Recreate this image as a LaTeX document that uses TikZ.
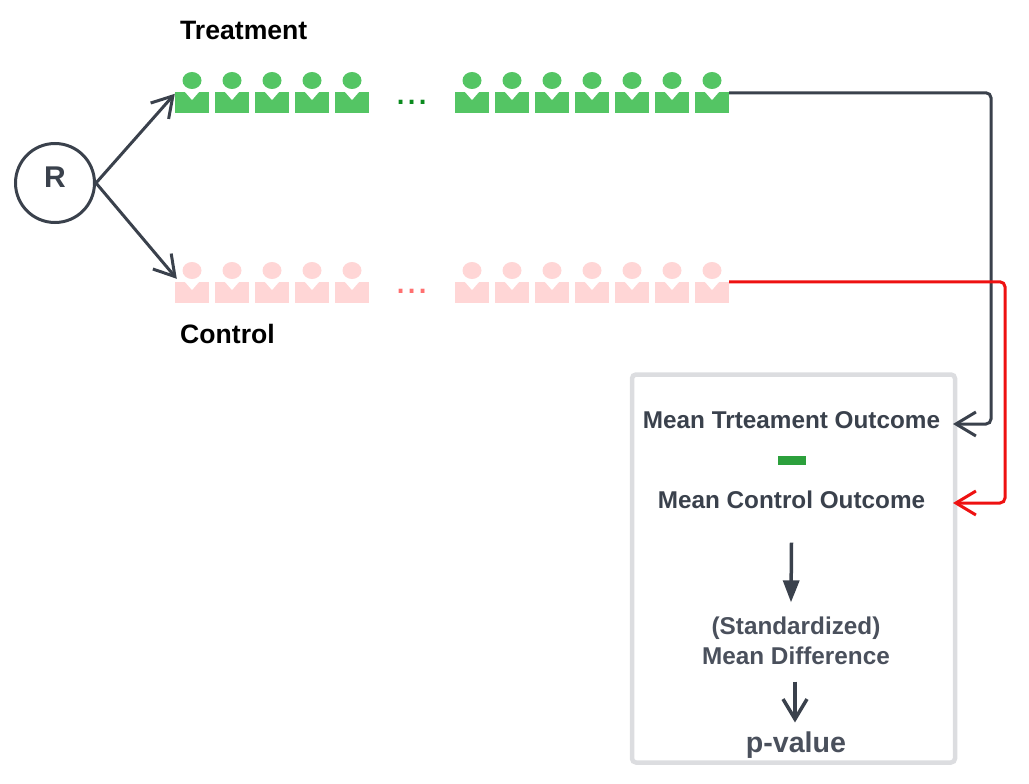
\documentclass[tikz,border=0pt]{standalone}
\usepackage{fontspec}
\setmainfont{Liberation Sans}
\usetikzlibrary{shapes.geometric,arrows.meta}
\definecolor{slate}{HTML}{3A414C}
\definecolor{slatelt}{HTML}{4A505C}
\definecolor{boxgrey}{HTML}{DCDDE0}
\definecolor{trtgreen}{HTML}{54C564}
\definecolor{ctlpink}{HTML}{FFD6D6}
\definecolor{minusgreen}{HTML}{2CA03C}
\definecolor{dotgreen}{HTML}{0A8A1E}
\definecolor{dotred}{HTML}{FF7070}
\definecolor{linered}{HTML}{EE1111}
\tikzstyle{line} = [draw=slate, line width=3pt, -{Straight Barb[length=20pt,width=24pt]}]
\tikzstyle{redline} = [line, draw=linered]
\tikzstyle{round bend} = [rounded corners=5pt]
\tikzstyle{solidline} = [draw=slate, line width=3.5pt, -{Stealth[length=22pt,width=16pt,inset=0pt]}]
\tikzstyle{body} = [rectangle, inner sep=0pt, minimum width=34pt, minimum height=21pt]
\tikzstyle{head} = [ellipse, inner sep=0pt, minimum width=19pt, minimum height=17pt]
\tikzstyle{heading} = [text=black, font=\fontsize{26.6}{30}\selectfont\bfseries, anchor=west, inner sep=0pt]
\tikzstyle{result} = [text=slate, font=\fontsize{24.3}{30}\selectfont\bfseries, align=center, inner sep=0pt]
\begin{document}
\begin{tikzpicture}[x=1pt, y=-1pt]
	\useasboundingbox (0,0) rectangle (1029,784);
	\node [circle, draw=slate, line width=3pt, minimum size=79pt, inner sep=0pt, text=slate, font=\fontsize{30}{30}\selectfont\bfseries] (rand) at (55,183) {\raisebox{11pt}{R}};
	% treatment row
	\foreach \i/\px in {1/175,2/215,3/255,4/295,5/335,6/455,7/495,8/535,9/575,10/615,11/655,12/695} {
		\node [body, fill=trtgreen] (t\i) at (\px+17,102.5) {};
		\node [head, fill=trtgreen] (th\i) at (\px+17,80.5) {};
		\fill [white] (\px+10,92) -- (\px+17,100) -- (\px+24,92) -- cycle;
	}
	% control row
	\foreach \i/\px in {1/175,2/215,3/255,4/295,5/335,6/455,7/495,8/535,9/575,10/615,11/655,12/695} {
		\node [body, fill=ctlpink] (c\i) at (\px+17,292.5) {};
		\node [head, fill=ctlpink] (ch\i) at (\px+17,270.5) {};
		\fill [white] (\px+10,282) -- (\px+17,290) -- (\px+24,282) -- cycle;
	}
	\node [heading] (trtlabel) at (180,30.5) {Treatment};
	\node [heading] (ctllabel) at (180,334) {Control};
	\node [text=dotgreen, font=\fontsize{40}{40}\selectfont] (trtdots) at (412,102) {...};
	\node [text=dotred, font=\fontsize{40}{40}\selectfont] (ctldots) at (412,291) {...};
	% outcome box
	\node [draw=boxgrey, line width=4.5pt, rounded corners=4pt, minimum width=323pt, minimum height=388pt, inner sep=0pt] (outbox) at (793.5,568.5) {};
	\node [result] (meantrt) at (791.5,420.5) {Mean Trteament Outcome};
	\node [rectangle, fill=minusgreen, minimum width=28pt, minimum height=9pt, inner sep=0pt, below of=meantrt, node distance=39.5pt] (minus) {};
	\node [result, below of=minus, node distance=39.5pt] (meanctl) {Mean Control Outcome};
	\node [result, text=slatelt] (stddiff) at (796,640.5) {(Standardized)\\Mean Difference};
	\node [result, text=slatelt, font=\fontsize{28.6}{30}\selectfont\bfseries] (pval) at (796,745) {p-value};
	\coordinate (trtin) at (953,424);
	\coordinate (ctlin) at (953,503);
	\coordinate (trtbend) at (991,424);
	\coordinate (ctlbend) at (1005,503);
	\path [line] (rand.east) -- ([yshift=-2pt]t1.north west);
	\path [line] (rand.east) -- ([xshift=2pt,yshift=3pt]c1.north west);
	\path [line, round bend] ([yshift=-1pt]t12.north east) -| (trtbend) -- (trtin);
	\path [redline, round bend] (c12.north east) -| (ctlbend) -- (ctlin);
	\path [solidline] ([yshift=-34pt]meanctl.south) -- ([xshift=-5pt,yshift=14pt]stddiff.north);
	\path [line, line width=3.5pt] ([xshift=-1pt,yshift=-17pt]stddiff.south) -- ([xshift=-1pt,yshift=9pt]pval.north);
\end{tikzpicture}
\end{document}
